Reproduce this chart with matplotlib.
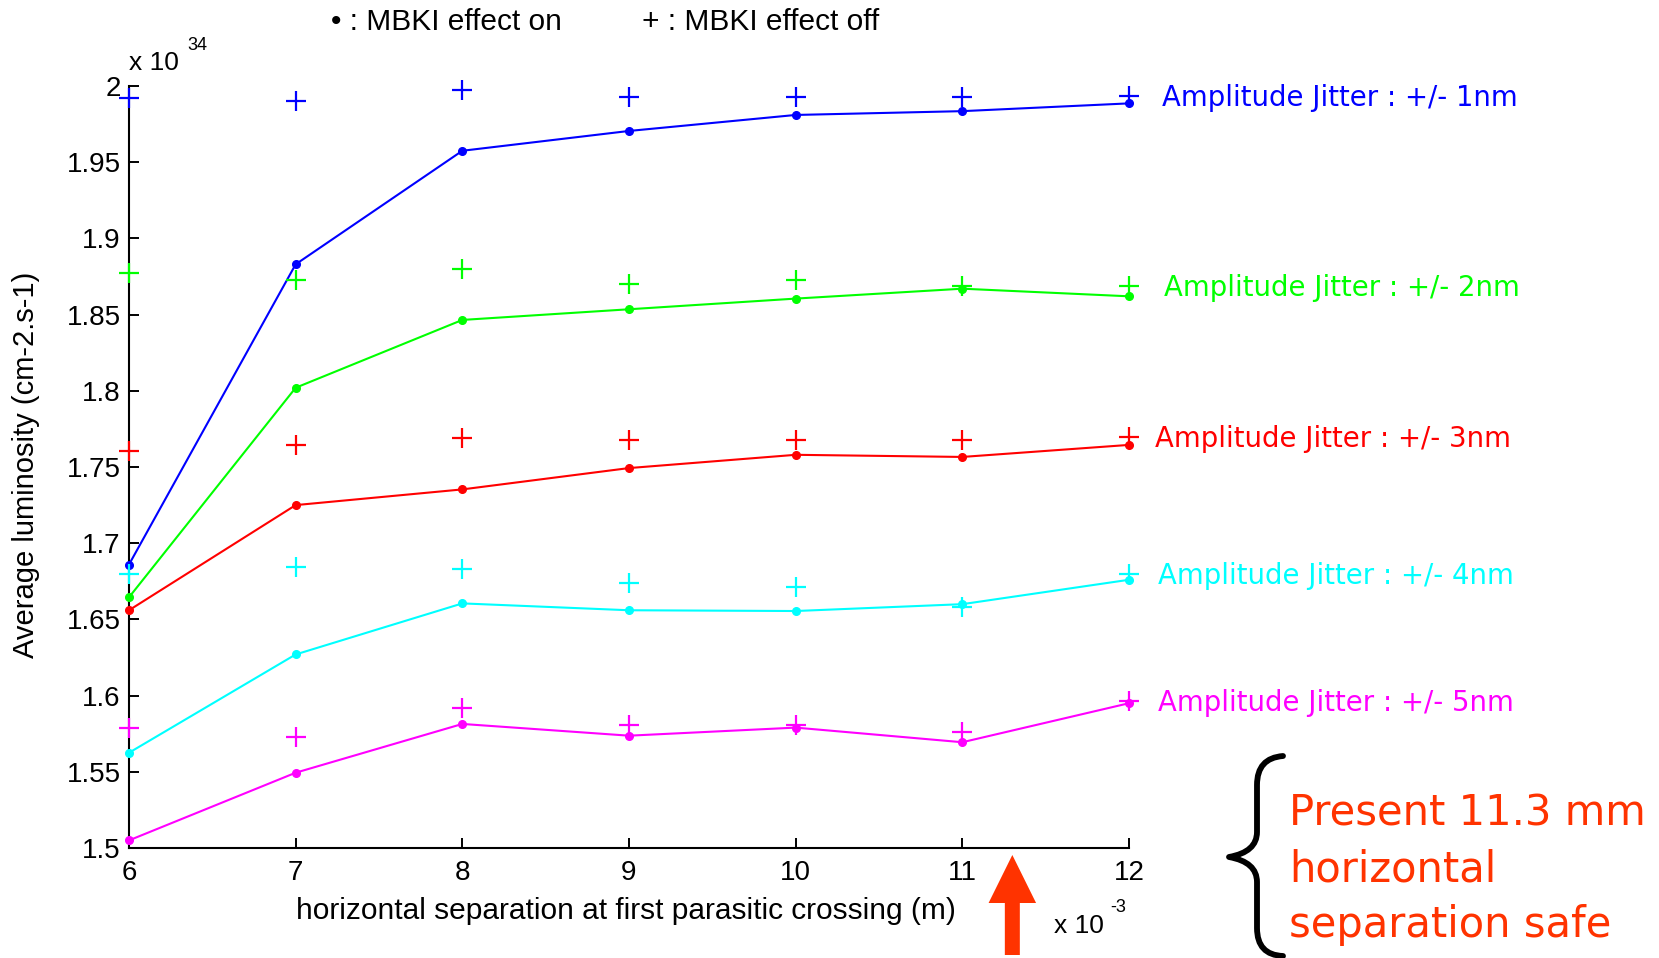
import matplotlib
matplotlib.use('Agg')
import matplotlib.pyplot as plt
from matplotlib.path import Path
from matplotlib.patches import PathPatch, FancyArrow
from matplotlib.transforms import blended_transform_factory

# horizontal separation (x 1e-3 m)
sep = [6, 7, 8, 9, 10, 11, 12]

# average luminosity (x 1e34), MBKI effect on (dots) / off (plus)
lum_on_1nm = [1.686, 1.883, 1.9575, 1.9705, 1.981, 1.9835, 1.9886]
lum_off_1nm = [1.992, 1.990, 1.9974, 1.993, 1.9925, 1.9925, 1.9935]
lum_on_2nm = [1.6645, 1.802, 1.8465, 1.8535, 1.8605, 1.867, 1.862]
lum_off_2nm = [1.8775, 1.873, 1.880, 1.870, 1.873, 1.8688, 1.869]
lum_on_3nm = [1.656, 1.725, 1.7353, 1.7493, 1.758, 1.7566, 1.7645]
lum_off_3nm = [1.7607, 1.7644, 1.769, 1.768, 1.768, 1.768, 1.770]
lum_on_4nm = [1.5625, 1.627, 1.6605, 1.656, 1.6555, 1.660, 1.676]
lum_off_4nm = [1.680, 1.6846, 1.683, 1.674, 1.671, 1.658, 1.680]
lum_on_5nm = [1.505, 1.5494, 1.5814, 1.5737, 1.579, 1.5694, 1.595]
lum_off_5nm = [1.579, 1.573, 1.592, 1.5807, 1.581, 1.576, 1.5967]

series_labels = ['Amplitude Jitter : +/- 1nm', 'Amplitude Jitter : +/- 2nm',
                 'Amplitude Jitter : +/- 3nm', 'Amplitude Jitter : +/- 4nm',
                 'Amplitude Jitter : +/- 5nm']
colors = ['#0000ff', '#00ff00', '#ff0000', '#00ffff', '#ff00ff']
label_dx = [24, 25, 19, 21, 21]   # points right of the last marker

y_ticks = [1.5, 1.55, 1.6, 1.65, 1.7, 1.75, 1.8, 1.85, 1.9, 1.95, 2.0]
y_tick_labels = ['1.5', '1.55', '1.6', '1.65', '1.7', '1.75', '1.8', '1.85', '1.9', '1.95', '2']
x_ticks = [6, 7, 8, 9, 10, 11, 12]
present_sep = 11.3

W, H = 1659, 958
plt.rcParams['font.family'] = ['Liberation Sans', 'DejaVu Sans']

fig = plt.figure(figsize=(W / 100, H / 100), dpi=100)
ax = fig.add_axes([129 / W, 110 / H, 1000 / W, 762 / H])

lum_on = [lum_on_1nm, lum_on_2nm, lum_on_3nm, lum_on_4nm, lum_on_5nm]
lum_off = [lum_off_1nm, lum_off_2nm, lum_off_3nm, lum_off_4nm, lum_off_5nm]

for on, off, c, lab, dx in zip(lum_on, lum_off, colors, series_labels, label_dx):
    ax.plot(sep, on, '-', color=c, lw=1.5, marker='o', ms=5.5, mec=c, mfc=c, clip_on=False, zorder=3)
    ax.plot(sep, off, '+', color=c, ms=15, mew=1.6, clip_on=False, zorder=4)
    ax.annotate(lab, xy=(sep[-1], off[-1]), xytext=(dx, -7.5), textcoords='offset points',
                ha='left', va='baseline', color=c, fontsize=19.8, family='DejaVu Sans',
                annotation_clip=False)

ax.set_xlim(6, 12)
ax.set_ylim(1.5, 2.0)
ax.set_xticks(x_ticks)
ax.set_xticklabels([str(t) for t in x_ticks])
ax.set_yticks(y_ticks)
ax.set_yticklabels(y_tick_labels)
for s in ['top', 'right']:
    ax.spines[s].set_visible(False)
for s in ['left', 'bottom']:
    ax.spines[s].set_linewidth(1.5)
ax.tick_params(direction='in', length=7, width=1.4, labelsize=20)
ax.tick_params(axis='x', pad=9)
ax.tick_params(axis='y', pad=6)

ax.set_xlabel('horizontal separation at first parasitic crossing (m)', fontsize=21.5)
ax.xaxis.set_label_coords(0.497, -0.064)
ax.set_ylabel('Average luminosity (cm-2.s-1)', fontsize=21)
ax.yaxis.set_label_coords(-0.089, 0.503)

# MATLAB style exponents
fig.text(129 / W, 1 - 63 / H, 'x 10', fontsize=19, va='center', ha='left')
fig.text(187 / W, 1 - 45 / H, '34', fontsize=13, va='center', ha='left')
fig.text(1054 / W, 1 - 926 / H, 'x 10', fontsize=19, va='center', ha='left')
fig.text(1110 / W, 1 - 908 / H, '-3', fontsize=13, va='center', ha='left')

# marker key at top
fig.text(331 / W, 1 - 22 / H, '\u2022 : MBKI effect on', fontsize=21.5, va='center', ha='left')
fig.text(642 / W, 1 - 22 / H, '+ : MBKI effect off', fontsize=21.5, va='center', ha='left')

# arrow at the present separation
red = '#ff3300'
trans = blended_transform_factory(ax.transData, fig.transFigure)
arrow = FancyArrow(present_sep, 3 / H, 0, (955 - 855) / H, width=0.09, head_width=0.285,
                   head_length=48 / H, length_includes_head=True, color=red, lw=0,
                   transform=trans, clip_on=False)
fig.add_artist(arrow)

# curly brace
def fp(x, y):
    return (x / W, 1 - y / H)

verts = [fp(1283, 756), fp(1257, 758), fp(1257, 785), fp(1257, 832),
         fp(1257, 852), fp(1229, 857), fp(1257, 862), fp(1257, 882),
         fp(1257, 928), fp(1257, 955), fp(1283, 956)]
codes = [Path.MOVETO, Path.CURVE3, Path.CURVE3, Path.LINETO,
         Path.CURVE3, Path.CURVE3, Path.CURVE3, Path.CURVE3,
         Path.LINETO, Path.CURVE3, Path.CURVE3]
brace = PathPatch(Path(verts, codes), fill=False, lw=4.2, ec='black',
                  transform=fig.transFigure, capstyle='round', joinstyle='round')
fig.add_artist(brace)

for txt, yb in zip(['Present 11.3 mm', 'horizontal', 'separation safe'], [825, 881, 937]):
    fig.text(1289 / W, 1 - yb / H, txt, fontsize=30, color=red, va='baseline', ha='left',
             family='DejaVu Sans')

fig.savefig('out.png', dpi=100)
